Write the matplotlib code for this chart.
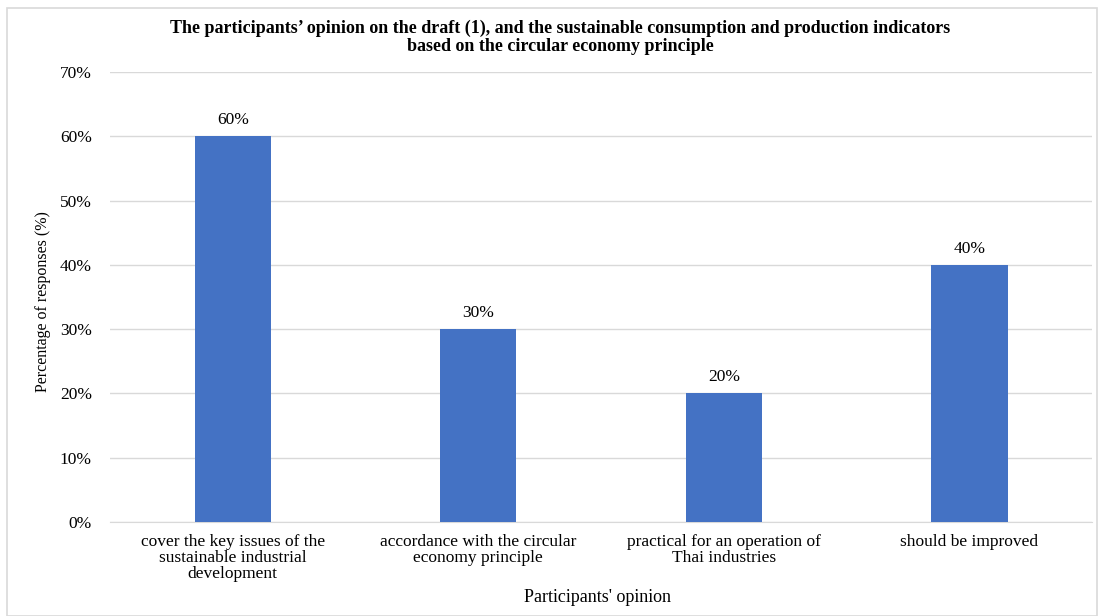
import matplotlib.pyplot as plt
from matplotlib.patches import Rectangle

plt.rcParams['font.family'] = ['Liberation Serif', 'DejaVu Serif']

categories = ['cover the key issues of the\nsustainable industrial\ndevelopment',
              'accordance with the circular\neconomy principle',
              'practical for an operation of\nThai industries',
              'should be improved']
values = [60, 30, 20, 40]
yticks = [0, 10, 20, 30, 40, 50, 60, 70]

fig = plt.figure(figsize=(11.05, 6.16), dpi=100)
ax = fig.add_axes([0.0995, 0.1526, 0.889, 0.7304])

# light frame around the whole chart
fig.patches.append(Rectangle((7 / 1105, 0.0), 1090 / 1105, 1 - 8 / 616,
                             transform=fig.transFigure, fill=False,
                             edgecolor='#d9d9d9', linewidth=1.2))

x = range(len(values))
bars = ax.bar(x, values, width=0.31, color='#4472C4', zorder=3)
for b, v in zip(bars, values):
    ax.text(b.get_x() + b.get_width() / 2, v + 1.3, f'{v}%',
            ha='center', va='bottom', fontsize=12.5)

ax.set_xlim(-0.5, len(values) - 0.5)
ax.set_ylim(0, 70)
ax.set_yticks(yticks)
ax.set_yticklabels([f'{t}%' for t in yticks], fontsize=12.5)
ax.set_xticks(list(x))
ax.set_xticklabels(categories, fontsize=12.5, linespacing=0.97)
ax.tick_params(axis='y', length=0, pad=13)
ax.tick_params(axis='x', length=0, pad=9)
ax.grid(axis='y', color='#d9d9d9', linewidth=1, zorder=0)
for s in ['top', 'right', 'left']:
    ax.spines[s].set_visible(False)
ax.spines['bottom'].set_color('#d9d9d9')

ax.set_ylabel('Percentage of responses (%)', fontsize=11.5)
ax.yaxis.set_label_coords(-0.06, 0.49)
ax.set_xlabel("Participants' opinion", fontsize=13)
ax.xaxis.set_label_coords(0.496, -0.148)

fig.text(0.507, 0.939, 'The participants\u2019 opinion on the draft (1), and the sustainable '
         'consumption and production indicators\nbased on the circular economy principle',
         ha='center', va='center', fontsize=13, fontweight='bold', linespacing=1.05)

fig.savefig('out.png', dpi=100)
